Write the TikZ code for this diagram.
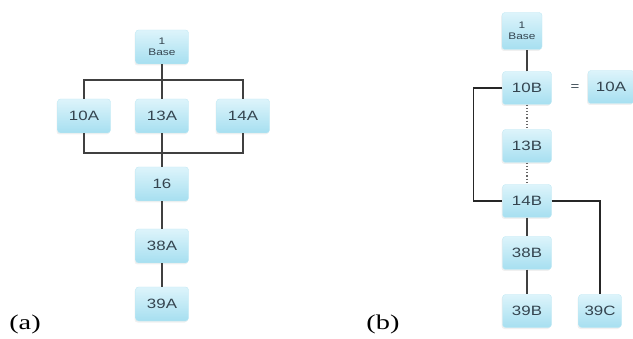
\documentclass[tikz,border=0pt]{standalone}
\usepackage{fontspec}
\setmainfont[FakeStretch=1.35]{Liberation Serif}
\newfontfamily\boxfont[FakeStretch=1.25]{Liberation Sans}
\usepackage{tikz}
\usetikzlibrary{shadows}
\definecolor{boxtop}{HTML}{DDF4FB}
\definecolor{boxbot}{HTML}{A6DFF0}
\definecolor{boxtxt}{HTML}{34444F}

\begin{document}
\begin{tikzpicture}[x=1pt, y=1pt,
    part/.style={rounded corners=3pt, top color=boxtop, bottom color=boxbot,
        draw=boxbot!70!white, text=boxtxt, inner sep=0pt,
        font=\boxfont\fontsize{13.5}{14}\selectfont,
        minimum width=53pt, minimum height=34pt,
        drop shadow={opacity=0.12, shadow xshift=-1pt, shadow yshift=-1.5pt}},
    partb/.style={part, minimum width=49pt, minimum height=33pt},
    basebox/.style={part, align=center, font=\boxfont\fontsize{9.5}{10.5}\selectfont},
    link/.style={draw=black!75, line width=1.3pt},
    bracket/.style={draw=black!85, line width=1.6pt},
    dotlink/.style={draw=black!60, line width=1.2pt, dotted},
    tag/.style={font=\fontsize{21}{22}\selectfont}]
            \useasboundingbox (0,0) rectangle (633,338);

            % (a) 零件
            \node[basebox] (baseA) at (162,291) {1\\Base};
            \node[part] (a10) at (84,222) {10A};
            \node[part] (a13) at (162,222) {13A};
            \node[part] (a14) at (243,222) {14A};
            \node[part] (a16) at (162,154) {16};
            \node[part] (a38) at (162,92) {38A};
            \node[part] (a39) at (162,34) {39A};

            % (a) 连线
            \coordinate (barT) at (162,258);
            \coordinate (barB) at (162,185);
            \draw[link] (baseA) -- (a13);
            \draw[link] (a10.north) |- (barT) -| (a14.north);
            \draw[link] (a10.south) |- (barB) -| (a14.south);
            \draw[link] (a13) -- (a16);
            \draw[link] (a16) -- (a38);
            \draw[link] (a38) -- (a39);

            % (b) 零件
            \node[basebox, minimum width=40pt, minimum height=37pt] (baseB) at (522,307) {1\\Base};
            \node[partb] (b10) at (527,250) {10B};
            \node[partb] (b13) at (527,192) {13B};
            \node[partb] (b14) at (527,137) {14B};
            \node[partb] (b38) at (527,85) {38B};
            \node[partb] (b39) at (527,27) {39B};
            \node[partb, minimum width=43pt] (c39) at (600,27) {39C};
            \node[partb, minimum width=46pt] (b10A) at (611,251) {10A};
            \node[text=boxtxt, font=\boxfont\fontsize{12}{12}\selectfont] (eq) at (575,250) {=};

            % (b) 连线
            \draw[link] (b10.north) -- (b10.north |- baseB.south);
            \draw[dotlink] (b10) -- (b13);
            \draw[dotlink] (b13) -- (b14);
            \draw[link] (b14) -- (b38);
            \draw[link] (b38) -- (b39);
            \draw[bracket] (b10.west) -- ++(-29,0) |- (b14.west);
            \draw[bracket] (b14.east) -| (c39.north);

            % 标号
            \node[tag] (tagA) at (25,14) {(a)};
            \node[tag] (tagB) at (383,14) {(b)};
        \end{tikzpicture}
\end{document}
